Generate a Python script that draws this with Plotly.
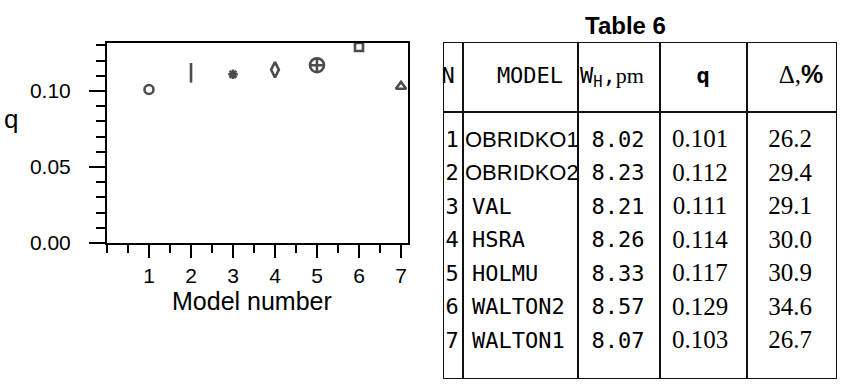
import plotly.graph_objects as go

# ---------------- data ----------------
model_number = [1, 2, 3, 4, 5, 6, 7]
model_names = ["OBRIDKO1", "OBRIDKO2", "VAL", "HSRA", "HOLMU", "WALTON2", "WALTON1"]
wh_pm = ["8.02", "8.23", "8.21", "8.26", "8.33", "8.57", "8.07"]
q_values = [0.101, 0.112, 0.111, 0.114, 0.117, 0.129, 0.103]
delta_pct = ["26.2", "29.4", "29.1", "30.0", "30.9", "34.6", "26.7"]
marker_symbols = ["circle-open", "line-ns-open", "asterisk-open", "diamond-tall-open",
                  "circle-cross-open", "square-open", "triangle-up-open"]
x_tick_vals = [1, 2, 3, 4, 5, 6, 7]
x_tick_labels = ["1", "2", "3", "4", "5", "6", "7"]
y_tick_vals = [0.0, 0.05, 0.10]
y_tick_labels = ["0.00", "0.05", "0.10"]
x_title = "Model number"
y_title = "q"
table_title = "Table 6"
header_labels = ["N", "MODEL", "W<sub>H</sub>,<span style='font-family:Liberation Serif'>pm</span>",
                 "<b>q</b>", "Δ,<span style='font-family:Liberation Sans'><b>%</b></span>"]

# ---------------- style ----------------
W, H = 849, 389
INK = "#000000"
SANS = "Liberation Sans, Arial, sans-serif"
MONO = "DejaVu Sans Mono, monospace"
SERIF = "Liberation Serif, Times New Roman, serif"


def px_x(p):
    return p / W


def px_y(p):
    return 1 - p / H


fig = go.Figure()

# ---------------- scatter plot ----------------
fig.add_trace(go.Scatter(
    x=model_number, y=q_values, mode="markers",
    marker=dict(symbol=marker_symbols, size=[9, 14, 8, 11, 14, 8, 9],
                color=INK, line=dict(color=INK, width=2.6)),
    hoverinfo="skip", showlegend=False, xaxis="x", yaxis="y",
))

# ---------------- table drawn as text on hidden axes ----------------
n_rows = len(model_names)
rows = list(range(1, n_rows + 1))
header_row = -0.91
col_bounds = [0, 20, 135, 217, 304, 394]


def text_trace(xpos, ys, texts, family, size, pos="middle center"):
    return go.Scatter(
        x=[xpos] * len(ys), y=ys, text=texts, mode="text",
        textposition=pos, textfont=dict(family=family, size=size, color=INK),
        hoverinfo="skip", showlegend=False, xaxis="x2", yaxis="y2", cliponaxis=False,
    )


# N column
fig.add_trace(text_trace(9, rows, [str(n) for n in model_number], MONO, 22))
# MODEL column (first two in sans, rest typewriter)
fams = [SANS if n.startswith("OBRIDKO") else MONO for n in model_names]
model_x = 22
fig.add_trace(go.Scatter(
    x=[model_x if f == SANS else model_x + 7 for f in fams], y=rows, text=model_names,
    mode="text", textposition="middle right",
    textfont=dict(family=fams, size=22, color=INK),
    hoverinfo="skip", showlegend=False, xaxis="x2", yaxis="y2", cliponaxis=False,
))
# W_H column
fig.add_trace(text_trace(175, rows, wh_pm, MONO, 22))
# q column
fig.add_trace(text_trace(257, rows, [f"{v:.3f}" for v in q_values], SERIF, 25))
# delta column
fig.add_trace(text_trace(347, rows, delta_pct, SERIF, 25))
# header row
fig.add_trace(go.Scatter(
    x=[5, 87, 137, 260, 358], y=[header_row] * 5, text=header_labels, mode="text",
    textposition=["middle center", "middle center", "middle right", "middle center", "middle center"],
    textfont=dict(family=[MONO, MONO, MONO, MONO, SERIF], size=[22, 22, 22, 22, 25], color=INK),
    hoverinfo="skip", showlegend=False, xaxis="x2", yaxis="y2", cliponaxis=False,
))

shapes = []
line_style = dict(color="#111111", width=2)
tbl_top, tbl_bottom, header_line = -1.955, 8.104, 0.134
for cb in col_bounds:
    shapes.append(dict(type="line", xref="x2", yref="y2", x0=cb, x1=cb,
                       y0=tbl_top, y1=tbl_bottom, line=line_style))
for yb in [tbl_top, header_line, tbl_bottom]:
    shapes.append(dict(type="line", xref="x2", yref="y2", x0=col_bounds[0], x1=col_bounds[-1],
                       y0=yb, y1=yb, line=line_style))

annotations = [
    dict(text=y_title, xref="paper", yref="paper", x=px_x(11), y=px_y(119), showarrow=False,
         xanchor="center", yanchor="middle", font=dict(family=SANS, size=26, color=INK)),
    dict(text=x_title, xref="paper", yref="paper", x=px_x(252), y=px_y(301), showarrow=False,
         xanchor="center", yanchor="middle", font=dict(family=SANS, size=25, color=INK)),
    dict(text=f"<b>{table_title}</b>", xref="paper", yref="paper", x=px_x(625), y=px_y(26),
         showarrow=False, xanchor="center", yanchor="middle",
         font=dict(family=SANS, size=24, color=INK)),
]

fig.update_layout(
    template="none",
    width=W, height=H, autosize=False,
    margin=dict(l=0, r=0, t=0, b=0, pad=0),
    paper_bgcolor="white", plot_bgcolor="white",
    shapes=shapes, annotations=annotations,
    xaxis=dict(
        domain=[px_x(107), px_x(408)], range=[0, 7.167], anchor="y", automargin=False,
        tickmode="array", tickvals=x_tick_vals, ticktext=x_tick_labels,
        ticks="outside", ticklen=13, tickwidth=2, tickcolor=INK,
        minor=dict(tickmode="array", tickvals=[0] + [i + 0.5 for i in range(7)],
                   ticks="outside", ticklen=8, tickwidth=2, tickcolor=INK),
        showline=True, linecolor=INK, linewidth=2, mirror=True,
        showgrid=False, zeroline=False,
        tickfont=dict(family=SANS, size=21, color=INK),
    ),
    yaxis=dict(
        domain=[px_y(243), px_y(43)], range=[0, 0.1316], anchor="x", automargin=False,
        tickmode="array", tickvals=y_tick_vals, ticktext=y_tick_labels,
        ticks="outside", ticklen=16, tickwidth=2, tickcolor=INK,
        minor=dict(tickmode="array",
                   tickvals=[0.01, 0.02, 0.03, 0.04, 0.06, 0.07, 0.08, 0.09, 0.11, 0.12, 0.13],
                   ticks="outside", ticklen=9, tickwidth=2, tickcolor=INK),
        showline=True, linecolor=INK, linewidth=2, mirror=True,
        showgrid=False, zeroline=False,
        tickfont=dict(family=SANS, size=21, color=INK), ticklabelstandoff=14,
    ),
    xaxis2=dict(domain=[px_x(443), px_x(837)], range=[0, 394], anchor="y2", automargin=False,
                visible=False, fixedrange=True),
    yaxis2=dict(domain=[px_y(379), px_y(42)], range=[8.104, -1.955], anchor="x2", automargin=False,
                visible=False, fixedrange=True),
)

post = """
document.documentElement.style.margin='0px';
document.body.style.margin='0px';
"""
fig.write_html("out.html", post_script=post, config={"displayModeBar": False})
